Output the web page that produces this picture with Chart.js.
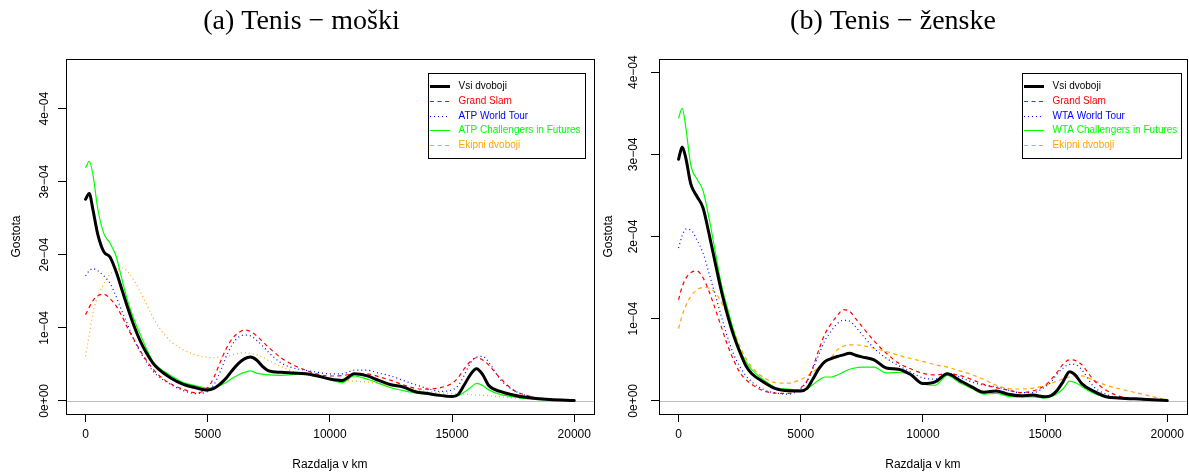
<!DOCTYPE html>
<html>
<head>
<meta charset="utf-8">
<title>Tenis - gostota razdalj</title>
<script src="https://cdn.jsdelivr.net/npm/chart.js@4.4.1/dist/chart.umd.min.js"></script>
<style>
  html, body { margin: 0; padding: 0; background: #fff; overflow: hidden; }
  body { width: 1189px; height: 473px; position: relative; }
  canvas { position: absolute; top: 0; }
  #menChart { left: 0; }
  #womenChart { left: 592px; }
</style>
</head>
<body>
<canvas id="menChart" width="596" height="473"></canvas>
<canvas id="womenChart" width="597" height="473"></canvas>
<script>
// distance grid (km), shared by all curves
const distanceKm = [0, 150, 300, 500, 750, 1000, 1250, 1500, 1750, 2000, 2250, 2500, 2750, 3000, 3500, 4000, 4500, 5000, 5250, 5500, 5750, 6000, 6250, 6500, 6750, 7000, 7250, 7500, 8000, 8500, 9000, 9500, 10000, 10500, 11000, 11500, 12000, 12500, 13000, 13500, 14000, 14500, 15000, 15250, 15500, 15750, 16000, 16250, 16500, 17000, 17500, 18000, 19000, 20000];

// densities, in units of 1e-04
const menAll = [2.76, 2.84, 2.62, 2.28, 2.04, 1.97, 1.77, 1.51, 1.25, 1.01, 0.81, 0.65, 0.52, 0.43, 0.31, 0.225, 0.18, 0.148, 0.17, 0.23, 0.31, 0.415, 0.51, 0.575, 0.60, 0.56, 0.47, 0.41, 0.39, 0.38, 0.37, 0.34, 0.30, 0.28, 0.37, 0.345, 0.28, 0.22, 0.19, 0.125, 0.10, 0.075, 0.06, 0.087, 0.22, 0.36, 0.44, 0.36, 0.21, 0.125, 0.08, 0.048, 0.017, 0.005];
const menGrandSlam = [1.18, 1.28, 1.37, 1.44, 1.46, 1.40, 1.30, 1.15, 0.98, 0.83, 0.68, 0.55, 0.44, 0.35, 0.23, 0.16, 0.11, 0.18, 0.32, 0.52, 0.71, 0.85, 0.93, 0.97, 0.95, 0.89, 0.81, 0.73, 0.59, 0.49, 0.42, 0.365, 0.34, 0.345, 0.37, 0.37, 0.33, 0.28, 0.22, 0.17, 0.16, 0.18, 0.24, 0.32, 0.44, 0.54, 0.59, 0.56, 0.49, 0.30, 0.15, 0.08, 0.013, 0.003];
const menWorldTour = [1.71, 1.78, 1.81, 1.78, 1.71, 1.61, 1.43, 1.22, 1.02, 0.82, 0.66, 0.53, 0.41, 0.33, 0.22, 0.14, 0.10, 0.13, 0.22, 0.39, 0.60, 0.77, 0.87, 0.90, 0.89, 0.83, 0.75, 0.66, 0.52, 0.45, 0.42, 0.39, 0.37, 0.37, 0.42, 0.42, 0.38, 0.34, 0.28, 0.22, 0.17, 0.13, 0.15, 0.21, 0.35, 0.52, 0.60, 0.61, 0.53, 0.28, 0.15, 0.075, 0.017, 0.003];
const menChallengers = [3.19, 3.28, 3.10, 2.63, 2.29, 2.16, 1.98, 1.65, 1.34, 1.10, 0.90, 0.71, 0.54, 0.455, 0.345, 0.25, 0.21, 0.175, 0.175, 0.21, 0.25, 0.31, 0.355, 0.39, 0.41, 0.38, 0.365, 0.355, 0.35, 0.36, 0.37, 0.34, 0.29, 0.25, 0.34, 0.30, 0.24, 0.18, 0.14, 0.11, 0.09, 0.07, 0.055, 0.07, 0.12, 0.18, 0.24, 0.21, 0.15, 0.085, 0.055, 0.03, 0.012, 0.005];
const menTeam = [0.61, 0.90, 1.20, 1.43, 1.60, 1.73, 1.79, 1.82, 1.76, 1.64, 1.49, 1.32, 1.15, 1.01, 0.81, 0.70, 0.63, 0.595, 0.59, 0.60, 0.61, 0.63, 0.65, 0.66, 0.65, 0.63, 0.60, 0.55, 0.47, 0.40, 0.355, 0.33, 0.30, 0.28, 0.27, 0.26, 0.24, 0.21, 0.18, 0.15, 0.13, 0.11, 0.10, 0.095, 0.09, 0.085, 0.08, 0.075, 0.07, 0.055, 0.04, 0.03, 0.015, 0.005];

const womenAll = [2.94, 3.09, 2.95, 2.64, 2.49, 2.35, 2.03, 1.68, 1.34, 1.05, 0.80, 0.60, 0.43, 0.33, 0.225, 0.145, 0.122, 0.12, 0.15, 0.265, 0.395, 0.48, 0.515, 0.54, 0.56, 0.58, 0.555, 0.535, 0.50, 0.40, 0.385, 0.32, 0.21, 0.23, 0.33, 0.25, 0.17, 0.105, 0.12, 0.08, 0.062, 0.07, 0.05, 0.065, 0.13, 0.24, 0.355, 0.31, 0.21, 0.115, 0.05, 0.035, 0.02, 0.005];
const womenGrandSlam = [1.23, 1.39, 1.49, 1.56, 1.58, 1.50, 1.33, 1.12, 0.90, 0.68, 0.50, 0.35, 0.26, 0.20, 0.12, 0.093, 0.09, 0.16, 0.24, 0.41, 0.63, 0.82, 0.94, 1.04, 1.11, 1.09, 1.00, 0.91, 0.73, 0.58, 0.46, 0.39, 0.335, 0.315, 0.33, 0.31, 0.26, 0.20, 0.16, 0.13, 0.10, 0.12, 0.19, 0.26, 0.35, 0.45, 0.50, 0.49, 0.44, 0.25, 0.13, 0.06, 0.017, 0.005];
const womenWorldTour = [1.86, 2.01, 2.09, 2.08, 1.96, 1.80, 1.55, 1.29, 1.03, 0.78, 0.57, 0.42, 0.31, 0.23, 0.135, 0.095, 0.082, 0.15, 0.23, 0.39, 0.57, 0.74, 0.85, 0.94, 0.98, 0.97, 0.90, 0.81, 0.64, 0.52, 0.43, 0.35, 0.28, 0.265, 0.335, 0.29, 0.23, 0.19, 0.17, 0.13, 0.10, 0.10, 0.17, 0.23, 0.33, 0.40, 0.445, 0.44, 0.38, 0.17, 0.08, 0.038, 0.015, 0.004];
const womenChallengers = [3.44, 3.56, 3.32, 2.87, 2.70, 2.56, 2.22, 1.82, 1.42, 1.13, 0.86, 0.63, 0.48, 0.38, 0.25, 0.16, 0.143, 0.13, 0.145, 0.20, 0.255, 0.29, 0.29, 0.315, 0.35, 0.385, 0.403, 0.41, 0.41, 0.34, 0.345, 0.32, 0.21, 0.19, 0.31, 0.22, 0.15, 0.083, 0.09, 0.055, 0.049, 0.049, 0.036, 0.05, 0.09, 0.15, 0.24, 0.22, 0.175, 0.09, 0.05, 0.032, 0.018, 0.005];
const womenTeam = [0.88, 1.04, 1.16, 1.27, 1.35, 1.38, 1.37, 1.32, 1.20, 1.04, 0.86, 0.67, 0.52, 0.41, 0.28, 0.22, 0.215, 0.26, 0.30, 0.35, 0.41, 0.47, 0.53, 0.62, 0.665, 0.68, 0.68, 0.675, 0.64, 0.60, 0.555, 0.515, 0.48, 0.44, 0.41, 0.365, 0.32, 0.26, 0.19, 0.15, 0.144, 0.155, 0.19, 0.215, 0.24, 0.27, 0.29, 0.305, 0.305, 0.25, 0.19, 0.15, 0.08, 0.009];

const menLabels = ["Vsi dvoboji", "Grand Slam", "ATP World Tour", "ATP Challengers in Futures", "Ekipni dvoboji"];
const womenLabels = ["Vsi dvoboji", "Grand Slam", "WTA World Tour", "WTA Challengers in Futures", "Ekipni dvoboji"];

const xTicks = [0, 5000, 10000, 15000, 20000];
const yTicks = [0, 1, 2, 3, 4];
const yTickLabels = ["0e+00", "1e\u221204", "2e\u221204", "3e\u221204", "4e\u221204"];

Chart.defaults.font.family = '"Liberation Sans", Arial, Helvetica, sans-serif';
Chart.defaults.color = "#000";

const DASHED = [4, 3.5];
const DOTTED = [1, 3];

// R-like frame: grey zero line, box, rotated y labels, boxed legend
const rFramePlugin = {
  id: "rFrame",
  beforeDatasetsDraw(chart) {
    const { ctx, chartArea } = chart;
    const y0 = Math.round(chart.scales.y.getPixelForValue(0)) + 0.5;
    ctx.save();
    ctx.strokeStyle = "#BEBEBE";
    ctx.lineWidth = 1;
    ctx.beginPath();
    ctx.moveTo(chartArea.left, y0);
    ctx.lineTo(chartArea.right, y0);
    ctx.stroke();
    ctx.restore();
  },
  afterDraw(chart, args, opts) {
    const { ctx, chartArea } = chart;
    const yScale = chart.scales.y;
    ctx.save();

    ctx.strokeStyle = "#000";
    ctx.lineWidth = 1;
    ctx.strokeRect(
      Math.round(chartArea.left) + 0.5,
      Math.round(chartArea.top) + 0.5,
      Math.round(chartArea.right - chartArea.left),
      Math.round(chartArea.bottom - chartArea.top)
    );

    ctx.fillStyle = "#000";
    ctx.font = '12px "Liberation Sans", Arial, sans-serif';
    ctx.textAlign = "center";
    ctx.textBaseline = "middle";
    const labelX = chartArea.left - opts.tickLabelOffset;
    yTicks.forEach((v, i) => {
      ctx.save();
      ctx.translate(labelX, yScale.getPixelForValue(v));
      ctx.rotate(-Math.PI / 2);
      ctx.fillText(yTickLabels[i], 0, 0);
      ctx.restore();
    });

    const lg = opts.legend;
    ctx.fillStyle = "#fff";
    ctx.fillRect(lg.left, lg.top, lg.width, lg.height);
    ctx.strokeStyle = "#000";
    ctx.strokeRect(lg.left + 0.5, lg.top + 0.5, lg.width, lg.height);
    ctx.font = '10px "Liberation Sans", Arial, sans-serif';
    ctx.textAlign = "left";
    chart.data.datasets.forEach((ds, i) => {
      const y = Math.round(lg.top + 13 + i * 14.75) + 0.5;
      ctx.strokeStyle = ds.borderColor;
      ctx.lineWidth = ds.borderWidth > 2 ? 3 : 1;
      ctx.setLineDash(ds.legendDash || ds.borderDash || []);
      ctx.beginPath();
      ctx.moveTo(lg.left + 2, y);
      ctx.lineTo(lg.left + 22, y);
      ctx.stroke();
      ctx.setLineDash([]);
      ctx.fillStyle = ds.borderColor;
      ctx.fillText(ds.label, lg.left + 30.5, y);
    });
    ctx.restore();
  },
};

function makeDataset(label, values, color, width, dash, legendDash) {
  return {
    label: label,
    data: distanceKm.map((x, i) => ({ x: x, y: values[i] })),
    borderColor: color,
    borderWidth: width,
    borderDash: dash,
    legendDash: legendDash,
    borderCapStyle: width > 2 ? "round" : "butt",
    borderJoinStyle: "round",
    pointRadius: 0,
    fill: false,
    cubicInterpolationMode: "monotone",
  };
}

function createPanel(canvasId, panel) {
  const ctx = document.getElementById(canvasId);
  return new Chart(ctx, {
    type: "line",
    data: {
      datasets: [
        makeDataset(panel.labels[0], panel.series[0], "#000000", 3, []),
        makeDataset(panel.labels[1], panel.series[1], "#FF0000", 1.2, DASHED),
        makeDataset(panel.labels[2], panel.series[2], "#0000FF", 1.2, DOTTED),
        makeDataset(panel.labels[3], panel.series[3], "#00FF00", 1.2, []),
        makeDataset(panel.labels[4], panel.series[4], "#FFA500", 1.2, panel.teamDash, DASHED),
      ],
    },
    options: {
      responsive: false,
      animation: false,
      layout: {
        padding: { left: panel.padLeft, right: panel.padRight, top: 0, bottom: 0 },
      },
      plugins: {
        legend: { display: false },
        tooltip: { enabled: false },
        title: {
          display: true,
          text: panel.title,
          color: "#000",
          font: { family: '"Liberation Serif", "Times New Roman", serif', size: 28, weight: "normal", lineHeight: 1.2 },
          padding: { top: 5, bottom: 20.4 },
        },
        rFrame: {
          tickLabelOffset: panel.tickLabelOffset,
          legend: panel.legend,
        },
      },
      scales: {
        x: {
          type: "linear",
          min: -800,
          max: 20800,
          afterBuildTicks: (scale) => {
            scale.ticks = xTicks.map((v) => ({ value: v }));
          },
          afterFit: (scale) => {
            scale.height = 59;
          },
          grid: { drawOnChartArea: false, drawTicks: true, tickLength: 8, color: "#000" },
          border: { display: false },
          ticks: {
            autoSkip: false,
            maxRotation: 0,
            padding: 5,
            font: { size: 12 },
            callback: (value) => String(value),
          },
          title: {
            display: true,
            text: "Razdalja v km",
            font: { size: 12 },
            padding: { top: 0, bottom: 1 },
          },
        },
        y: {
          type: "linear",
          min: panel.yMin,
          max: panel.yMax,
          afterBuildTicks: (scale) => {
            scale.ticks = yTicks.map((v) => ({ value: v }));
          },
          afterFit: (scale) => {
            scale.width = panel.axisWidth;
          },
          grid: { drawOnChartArea: false, drawTicks: true, tickLength: 8, color: "#000" },
          border: { display: false },
          ticks: { display: false },
          title: {
            display: true,
            text: "Gostota",
            font: { size: 12 },
            padding: { top: panel.yTitlePad, bottom: 0 },
          },
        },
      },
    },
    plugins: [rFramePlugin],
  });
}

createPanel("menChart", {
  title: "(a) Tenis \u2212 moški",
  labels: menLabels,
  series: [menAll, menGrandSlam, menWorldTour, menChallengers, menTeam],
  teamDash: DOTTED,
  yMin: -0.18,
  yMax: 4.68,
  padLeft: 8,
  padRight: 1,
  axisWidth: 58,
  yTitlePad: 1,
  tickLabelOffset: 21.5,
  legend: { left: 428, top: 73, width: 157, height: 85 },
});

createPanel("womenChart", {
  title: "(b) Tenis \u2212 ženske",
  labels: womenLabels,
  series: [womenAll, womenGrandSlam, womenWorldTour, womenChallengers, womenTeam],
  teamDash: DASHED,
  yMin: -0.16,
  yMax: 4.16,
  padLeft: 7,
  padRight: 2,
  axisWidth: 60,
  yTitlePad: 2,
  tickLabelOffset: 25.5,
  legend: { left: 430, top: 73, width: 159, height: 85 },
});
</script>
</body>
</html>
